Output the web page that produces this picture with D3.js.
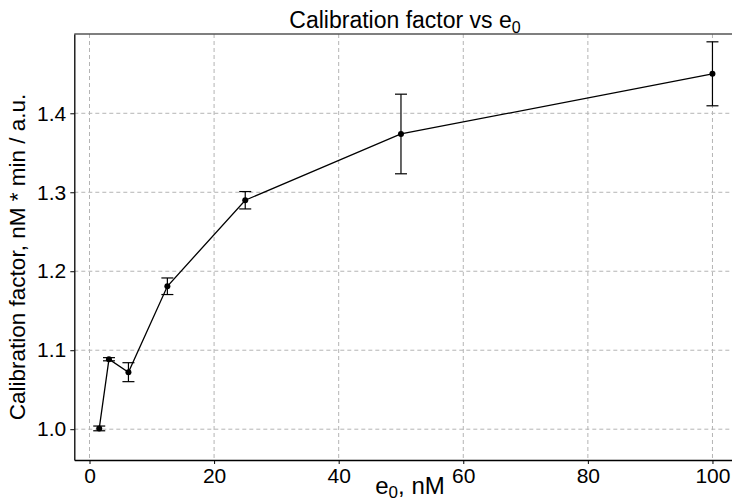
<!DOCTYPE html>
<html>
<head>
<meta charset="utf-8">
<script src="https://cdn.jsdelivr.net/npm/d3@7"></script>
<style>
  body { margin: 0; background: #fff; }
  svg text { font-family: "Liberation Sans", Arial, sans-serif; fill: #000; }
</style>
</head>
<body>
<svg id="chart" width="732" height="502"></svg>
<script>
const width = 732;
const height = 502;

// data
const e0 = [1.5625, 3.125, 6.25, 12.5, 25, 50, 100];
const factor = [1.001, 1.0886, 1.0722, 1.181, 1.2899, 1.3738, 1.450];
const errors = [0.003, 0.002, 0.012, 0.0105, 0.011, 0.0504, 0.0405];
const xTicks = [0, 20, 40, 60, 80, 100];
const yTicks = [1.0, 1.1, 1.2, 1.3, 1.4];

const points = e0.map((x, i) => ({ x: x, y: factor[i], err: errors[i] }));

const plotLeft = 74.3, plotRight = 737, plotTop = 34, plotBottom = 460;

const svg = d3.select("#chart");

const x = d3.scaleLinear().domain([-2.44, 103.94]).range([plotLeft, plotRight]);
const y = d3.scaleLinear().domain([0.961, 1.5004]).range([plotBottom, plotTop]);

// grid
svg.append("g")
  .selectAll("line")
  .data(xTicks)
  .enter()
  .append("line")
  .attr("x1", d => x(d)).attr("x2", d => x(d))
  .attr("y1", plotTop).attr("y2", plotBottom)
  .attr("stroke", "#b4b4b4")
  .attr("stroke-dasharray", "4,3");

svg.append("g")
  .selectAll("line")
  .data(yTicks)
  .enter()
  .append("line")
  .attr("x1", plotLeft).attr("x2", plotRight)
  .attr("y1", d => y(d)).attr("y2", d => y(d))
  .attr("stroke", "#b4b4b4")
  .attr("stroke-dasharray", "4,3");

// top border
svg.append("line")
  .attr("x1", plotLeft).attr("x2", plotRight)
  .attr("y1", plotTop).attr("y2", plotTop)
  .attr("stroke", "#555")
  .attr("stroke-width", 1.3);

// axes
const xAxis = svg.append("g")
  .attr("transform", `translate(0,${plotBottom})`)
  .call(d3.axisBottom(x).tickValues(xTicks).tickSizeInner(4).tickSizeOuter(0).tickPadding(4).tickFormat(d3.format("d")));
xAxis.select(".domain").attr("stroke-width", 1.3);
xAxis.selectAll("text").attr("font-size", "21px");

const yAxis = svg.append("g")
  .attr("transform", `translate(${plotLeft},0)`)
  .call(d3.axisLeft(y).tickValues(yTicks).tickSizeInner(4).tickSizeOuter(0).tickPadding(4).tickFormat(d3.format(".1f")));
yAxis.select(".domain").attr("stroke-width", 1.3);
yAxis.selectAll("text").attr("font-size", "21px");
svg.selectAll(".tick line").attr("stroke", "#000");
svg.selectAll(".domain").attr("stroke", "#000");
svg.selectAll(".tick text").attr("font-family", "Liberation Sans, Arial, sans-serif");

// error bars
const eb = svg.append("g").attr("stroke", "#000").attr("stroke-width", 1.2);
eb.selectAll(".v")
  .data(points)
  .enter()
  .append("line")
  .attr("x1", d => x(d.x)).attr("x2", d => x(d.x))
  .attr("y1", d => y(d.y - d.err)).attr("y2", d => y(d.y + d.err));
eb.selectAll(".lo")
  .data(points)
  .enter()
  .append("line")
  .attr("x1", d => x(d.x) - 6).attr("x2", d => x(d.x) + 6)
  .attr("y1", d => y(d.y - d.err)).attr("y2", d => y(d.y - d.err));
eb.selectAll(".hi")
  .data(points)
  .enter()
  .append("line")
  .attr("x1", d => x(d.x) - 6).attr("x2", d => x(d.x) + 6)
  .attr("y1", d => y(d.y + d.err)).attr("y2", d => y(d.y + d.err));

// line
svg.append("path")
  .datum(points)
  .attr("fill", "none")
  .attr("stroke", "#000")
  .attr("stroke-width", 1.3)
  .attr("d", d3.line().x(d => x(d.x)).y(d => y(d.y)));

// points
svg.append("g")
  .selectAll("circle")
  .data(points)
  .enter()
  .append("circle")
  .attr("cx", d => x(d.x))
  .attr("cy", d => y(d.y))
  .attr("r", 3)
  .attr("fill", "#000");

// title
const title = svg.append("text")
  .attr("x", 405)
  .attr("y", 28)
  .attr("text-anchor", "middle")
  .attr("font-size", "23px");
title.append("tspan").text("Calibration factor vs e");
title.append("tspan").attr("font-size", "16px").attr("dy", 5).text("0");

// x label
const xl = svg.append("text")
  .attr("x", 410)
  .attr("y", 494)
  .attr("text-anchor", "middle")
  .attr("font-size", "24px");
xl.append("tspan").text("e");
xl.append("tspan").attr("font-size", "17px").attr("dy", 3.5).text("0");
xl.append("tspan").attr("dy", -3.5).text(", nM");

// y label
svg.append("text")
  .attr("transform", "translate(25,257) rotate(-90)")
  .attr("text-anchor", "middle")
  .attr("font-size", "22.5px")
  .text("Calibration factor, nM * min / a.u.");
</script>
</body>
</html>
